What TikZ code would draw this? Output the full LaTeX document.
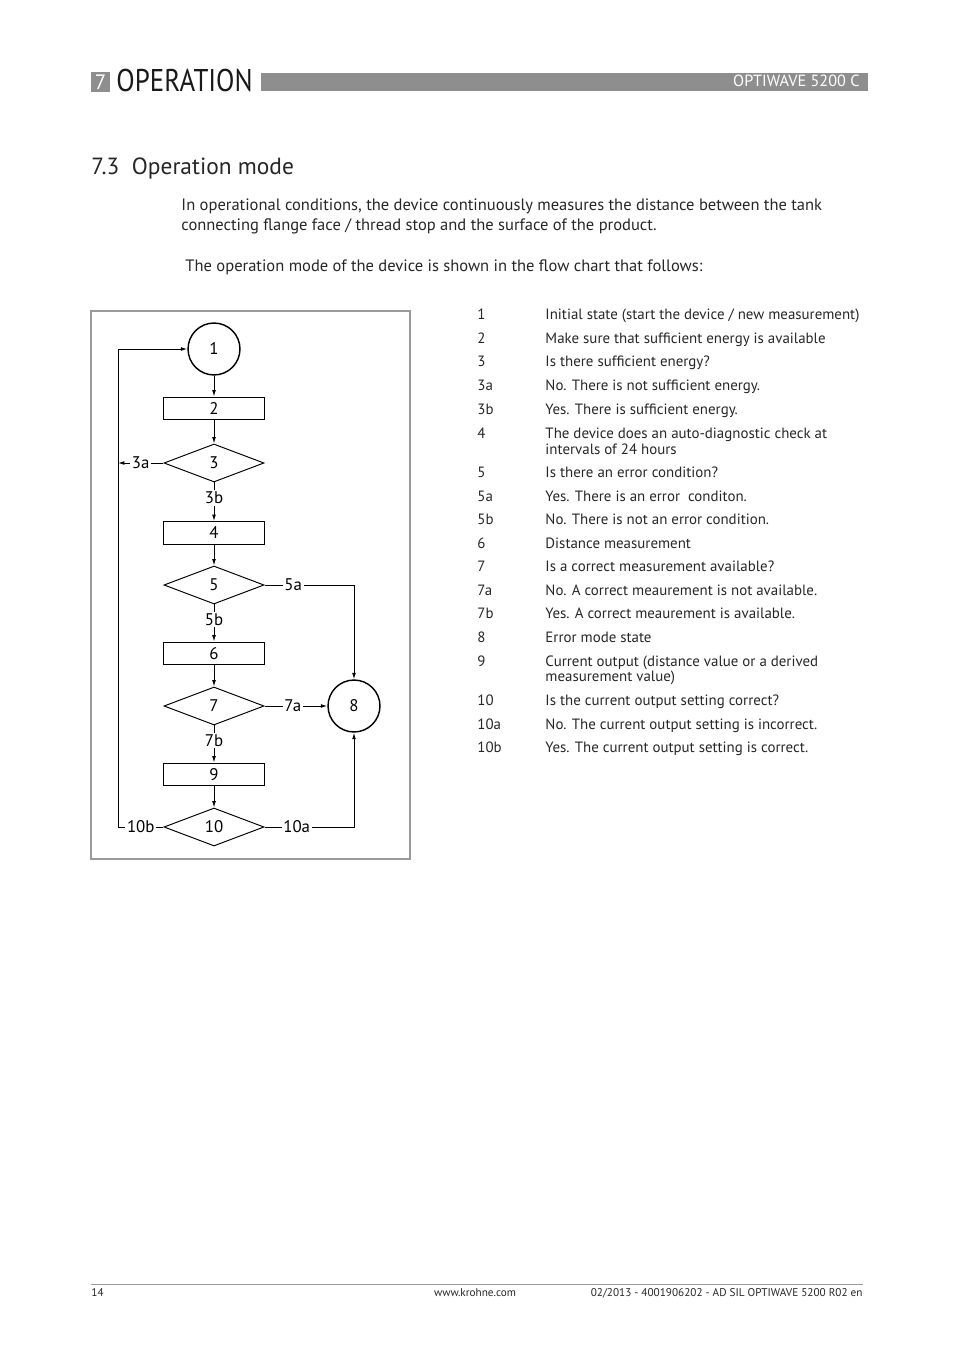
\documentclass[tikz,border=0pt]{standalone}
\usepackage{graphicx}
\usepackage{fontspec}
\setmainfont{PT Sans}
\usepackage{tikz}
\usetikzlibrary{shapes.geometric,arrows.meta,calc}
\definecolor{headgray}{HTML}{8E8E8E}
\definecolor{framegray}{HTML}{9A9A9A}
\newcommand{\legfont}{\fontsize{9.3}{10}\selectfont}
\newcommand{\bodyfont}{\fontsize{10.3}{12}\selectfont}
\newcommand{\chartfont}{\fontsize{10.5}{11}\selectfont}
\tikzset{
  box/.style={draw,rectangle,minimum width=63pt,minimum height=14.3pt,inner sep=0pt,font=\chartfont},
  ask/.style={draw,diamond,minimum width=62.4pt,minimum height=23.7pt,inner sep=0pt,font=\chartfont},
  state/.style={draw,circle,line width=0.9pt,minimum size=32.4pt,inner sep=0pt,font=\chartfont},
  lbl/.style={fill=white,inner sep=1pt,font=\chartfont},
  arr/.style={-{Latex[length=4pt,width=2.4pt]}},
  txt/.style={anchor=base west,inner sep=0pt,text=black!85},
}

\begin{document}
\begin{tikzpicture}[x=0.6237pt,y=-0.6237pt,line width=0.6pt]
\useasboundingbox (0,0) rectangle (954,1351);

% header
\fill[headgray] (91,72) rectangle (110,92);
\node[text=white,inner sep=0pt,font=\fontsize{13}{13}\selectfont] (chapnum) at (100.5,82) {7};
\node[txt,text=black!90,font=\fontsize{19.6}{20}\selectfont] (chaptitle) at (116,92) {\scalebox{0.855}[1]{OPERATION}};
\fill[headgray] (261,73) rectangle (868,91);
\node[anchor=base east,inner sep=0pt,text=white,font=\fontsize{10.1}{11}\selectfont] (product) at (860,87) {OPTIWAVE 5200 C};

% section and intro
\node[txt,font=\fontsize{14.6}{16}\selectfont] (section) at (91,175) {7.3\ \ Operation mode};
\node[txt,font=\bodyfont] (intro1) at (181,211) {In operational conditions, the device continuously measures the distance between the tank};
\node[txt,font=\bodyfont] (intro2) at (181,231) {connecting flange face / thread stop and the surface of the product.};
\node[txt,font=\bodyfont] (intro3) at (185,272) {The operation mode of the device is shown in the flow chart that follows:};

% flow chart
\draw[framegray,line width=0.7pt] (91,311) rectangle (410,859);

\node[state] (c1) at (214,349) {1};
\node[box] (r2) at (214,408.5) {2};
\node[ask] (d3) at (214,463) {3};
\node[box] (r4) at (214,533) {4};
\node[ask] (d5) at (214,585) {5};
\node[box] (r6) at (214,653.5) {6};
\node[ask] (d7) at (214,706) {7};
\node[box] (r9) at (214,774.5) {9};
\node[ask] (d10) at (214,827) {10};
\node[state] (c8) at (354,706) {8};
\coordinate (lp) at (118,349);

\draw[arr] (c1) -- (r2);
\draw[arr] (r2) -- (d3);
\draw[arr] (d3.south) -- node[lbl,pos=0.4]{3b} (r4.north);
\draw[arr] (r4) -- (d5);
\draw[arr] (d5.south) -- node[lbl,pos=0.4]{5b} (r6.north);
\draw[arr] (r6) -- (d7);
\draw[arr] (d7.south) -- node[lbl,pos=0.4]{7b} (r9.north);
\draw[arr] (r9) -- (d10);

\draw[arr] (d3.west) -- node[lbl]{3a} (d3.west -| lp);
\draw[arr] (d10.west) -- node[lbl]{10b} (d10.west -| lp) -- (lp) -- (c1.west);
\draw[arr] (d5.east) -| node[lbl,pos=0.16]{5a} (c8.north);
\draw[arr] (d7.east) -- node[lbl,pos=0.45]{7a} (c8.west);
\draw[arr] (d10.east) -| node[lbl,pos=0.18]{10a} (c8.south);

% legend
\node[txt,font=\legfont] (k1) at (477,320) {1};
\node[txt,font=\legfont] (t1) at (545,320) {Initial state (start the device / new measurement)};
\node[txt,font=\legfont] (k2) at (477,344) {2};
\node[txt,font=\legfont] (t2) at (545,344) {Make sure that sufficient energy is available};
\node[txt,font=\legfont] (k3) at (477,367) {3};
\node[txt,font=\legfont] (t3) at (545,367) {Is there sufficient energy?};
\node[txt,font=\legfont] (k3a) at (477,391) {3a};
\node[txt,font=\legfont] (t3a) at (545,391) {No. There is not sufficient energy.};
\node[txt,font=\legfont] (k3b) at (477,414) {3b};
\node[txt,font=\legfont] (t3b) at (545,414) {Yes. There is sufficient energy.};
\node[txt,font=\legfont] (k4) at (477,438) {4};
\node[txt,font=\legfont] (t4) at (545,438) {The device does an auto-diagnostic check at};
\node[txt,font=\legfont] (t4b) at (545,454) {intervals of 24 hours};
\node[txt,font=\legfont] (k5) at (477,477) {5};
\node[txt,font=\legfont] (t5) at (545,477) {Is there an error condition?};
\node[txt,font=\legfont] (k5a) at (477,501) {5a};
\node[txt,font=\legfont] (t5a) at (545,501) {Yes. There is an error\ \ conditon.};
\node[txt,font=\legfont] (k5b) at (477,524) {5b};
\node[txt,font=\legfont] (t5b) at (545,524) {No. There is not an error condition.};
\node[txt,font=\legfont] (k6) at (477,548) {6};
\node[txt,font=\legfont] (t6) at (545,548) {Distance measurement};
\node[txt,font=\legfont] (k7) at (477,571) {7};
\node[txt,font=\legfont] (t7) at (545,571) {Is a correct measurement available?};
\node[txt,font=\legfont] (k7a) at (477,595) {7a};
\node[txt,font=\legfont] (t7a) at (545,595) {No. A correct meaurement is not available.};
\node[txt,font=\legfont] (k7b) at (477,618) {7b};
\node[txt,font=\legfont] (t7b) at (545,618) {Yes. A correct meaurement is available.};
\node[txt,font=\legfont] (k8) at (477,642) {8};
\node[txt,font=\legfont] (t8) at (545,642) {Error mode state};
\node[txt,font=\legfont] (k9) at (477,666) {9};
\node[txt,font=\legfont] (t9) at (545,666) {Current output (distance value or a derived};
\node[txt,font=\legfont] (t9b) at (545,681) {measurement value)};
\node[txt,font=\legfont] (k10) at (477,705) {10};
\node[txt,font=\legfont] (t10) at (545,705) {Is the current output setting correct?};
\node[txt,font=\legfont] (k10a) at (477,729) {10a};
\node[txt,font=\legfont] (t10a) at (545,729) {No. The current output setting is incorrect.};
\node[txt,font=\legfont] (k10b) at (477,752) {10b};
\node[txt,font=\legfont] (t10b) at (545,752) {Yes. The current output setting is correct.};

% footer
\draw[framegray,line width=0.5pt] (91,1284) -- (863,1284);
\node[txt,font=\fontsize{7}{8}\selectfont] (page) at (91,1296) {14};
\node[anchor=base,inner sep=0pt,text=black!85,font=\fontsize{7}{8}\selectfont] (web) at (475,1296) {www.krohne.com};
\node[anchor=base east,inner sep=0pt,text=black!85,font=\fontsize{7}{8}\selectfont] (docref) at (863,1296) {02/2013 - 4001906202 - AD SIL OPTIWAVE 5200 R02 en};
\end{tikzpicture}
\end{document}
